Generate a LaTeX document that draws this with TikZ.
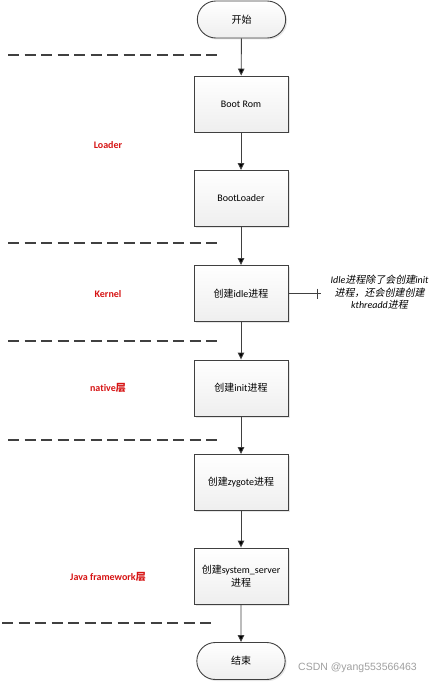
\documentclass[tikz,border=0pt]{standalone}
\usepackage{fontspec}
\setmainfont[Ligatures=NoCommon]{Carlito}
\newfontfamily\cjk[ItalicFont=Noto Sans CJK SC,ItalicFeatures={FakeSlant=0.2}]{Noto Sans CJK SC}
\newfontfamily\markfont{Liberation Sans}
\newcommand{\zh}[1]{{\cjk #1}}
\usetikzlibrary{arrows.meta,positioning,shapes.misc,shadows}
\definecolor{framegray}{RGB}{64,64,64}
\definecolor{layerred}{RGB}{214,20,20}
\tikzset{font=\fontsize{10}{12.5}\selectfont}
\tikzstyle{proc}=[rectangle,draw=framegray,line width=0.9pt,top color=white,bottom color=gray!13,
  minimum width=94pt,minimum height=56pt,inner sep=2pt,align=center,
  drop shadow={shadow xshift=1.5pt,shadow yshift=-1.5pt,opacity=0.2}]
\tikzstyle{term}=[rounded rectangle,draw=framegray,line width=0.9pt,top color=white,bottom color=gray!13,
  minimum width=95pt,minimum height=37pt,
  drop shadow={shadow xshift=1.5pt,shadow yshift=-1.5pt,opacity=0.2}]
\tikzstyle{layer}=[text=layerred,font=\bfseries\fontsize{10}{12}\selectfont]
\tikzstyle{sep}=[draw=framegray,line width=1.3pt,dash pattern=on 11pt off 5.5pt]

\begin{document}
\begin{tikzpicture}[x=1pt,y=-1pt]
\useasboundingbox (0,0) rectangle (432,684);
% flow
\node[term] (S) at (241.5,19.5) {\zh{开始}};
\node[proc] (R) at (241,104) {Boot Rom};
\node[proc] (L) at (241,198.5) {BootLoader};
\node[proc] (I) at (241,293.5) {\zh{创建}idle\zh{进程}};
\node[proc] (N) at (241,388) {\zh{创建}init\zh{进程}};
\node[proc] (Z) at (241,482.5) {\zh{创建}zygote\zh{进程}};
\node[proc] (Y) at (241,576) {\zh{创建}system\_server\\\zh{进程}};
\node[term] (E) at (241,661) {\zh{结束}};
\path[-{Triangle[length=7pt,width=6.5pt]},draw=framegray,line width=0.9pt]
(S) edge (R)
(R) edge (L)
(L) edge (I)
(I) edge (N)
(N) edge (Z)
(Z) edge (Y)
(Y) edge (E);
% note on idle
\node[align=center,font=\itshape\fontsize{10}{12.5}\selectfont] (C) at (379.5,292.5)
  {Idle\zh{进程除了会创建}init\\\zh{进程，还会创建创建}\\kthreadd\zh{进程}};
\coordinate (T) at (321,293.5);
\draw[framegray,line width=0.8pt] (I.east) -- (T);
\draw[framegray,line width=0.8pt] ([xshift=-4pt,yshift=5pt]T) -- ([xshift=-4pt,yshift=-5pt]T);
% layers
\foreach \y in {55,243,341,440}
  \draw[sep] (8,\y) -- (220,\y);
\draw[sep] (2,623) -- (214,623);
\node[layer] (LA) at (108,145.5) {Loader};
\node[layer] (LB) at (108,294.5) {Kernel};
\node[layer] (LC) at (108,388) {native\zh{层}};
\node[layer] (LD) at (108,577) {Java framework\zh{层}};
\node[text=gray!75,font=\markfont\fontsize{10.5}{12}\selectfont] (W) at (357.5,667.5) {CSDN @yang553566463};
\end{tikzpicture}
\end{document}
